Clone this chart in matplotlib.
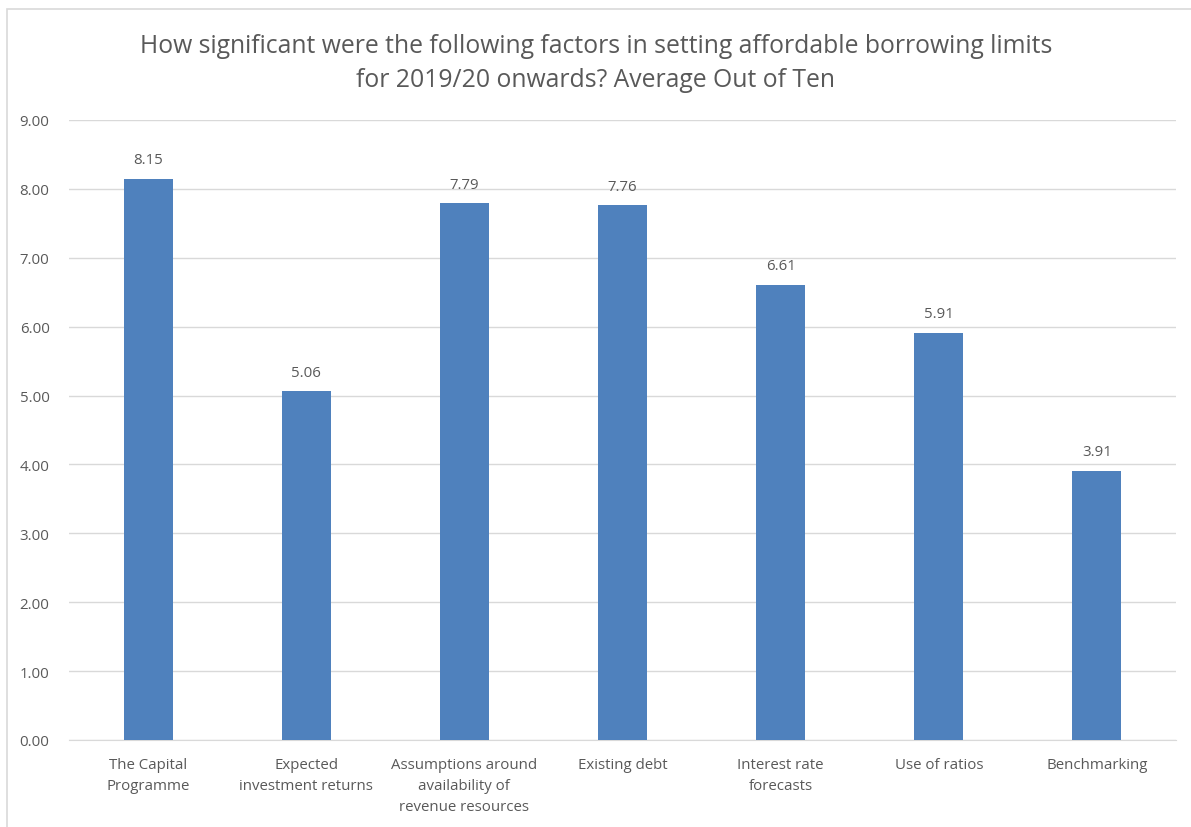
import matplotlib
matplotlib.use("Agg")
import matplotlib.pyplot as plt
from matplotlib.patches import Rectangle

categories = ["The Capital\nProgramme", "Expected\ninvestment returns",
              "Assumptions around\navailability of\nrevenue resources",
              "Existing debt", "Interest rate\nforecasts", "Use of ratios", "Benchmarking"]
values = [8.15, 5.06, 7.79, 7.76, 6.61, 5.91, 3.91]
yticks = [0, 1, 2, 3, 4, 5, 6, 7, 8, 9]
title = ("How significant were the following factors in setting affordable borrowing limits\n"
         "for 2019/20 onwards? Average Out of Ten")

plt.rcParams['font.family'] = ['Open Sans', 'DejaVu Sans']
txt = '#595959'
bar_color = '#4F81BD'
grid = '#D9D9D9'

fig = plt.figure(figsize=(11.91, 8.28), dpi=100)
fig.patches.append(Rectangle((7/1191, -0.01), 1.1, (828-10)/828 + 0.01, transform=fig.transFigure,
                             fill=False, edgecolor='#D9D9D9', linewidth=1.2))
ax = fig.add_axes([69/1191, 87/828, (1176-69)/1191, (741-121)/828])

x = list(range(len(categories)))
ax.bar(x, values, width=0.31, color=bar_color, zorder=3)
for xi, v in zip(x, values):
    ax.text(xi, v + 0.17, f"{v:.2f}", ha='center', va='bottom', fontsize=10.8, color=txt)

ax.set_xlim(-0.5, len(categories) - 0.5)
ax.set_ylim(0, 9)
ax.set_yticks(yticks)
ax.set_yticklabels([f"{t:.2f}" for t in yticks])
ax.set_xticks(x)
ax.set_xticklabels(categories, linespacing=1.55)
ax.tick_params(axis='both', length=0, labelsize=10.8, colors=txt)
ax.tick_params(axis='y', pad=14)
ax.tick_params(axis='x', pad=12)
ax.grid(axis='y', color=grid, linewidth=1, zorder=0)
for s in ['top', 'right', 'left']:
    ax.spines[s].set_visible(False)
ax.spines['bottom'].set_color(grid)

fig.text(596/1191, 1 - 63.5/828, title, ha='center', va='center', fontsize=17.8,
         color=txt, linespacing=1.45)

fig.savefig("out.png", dpi=100)
